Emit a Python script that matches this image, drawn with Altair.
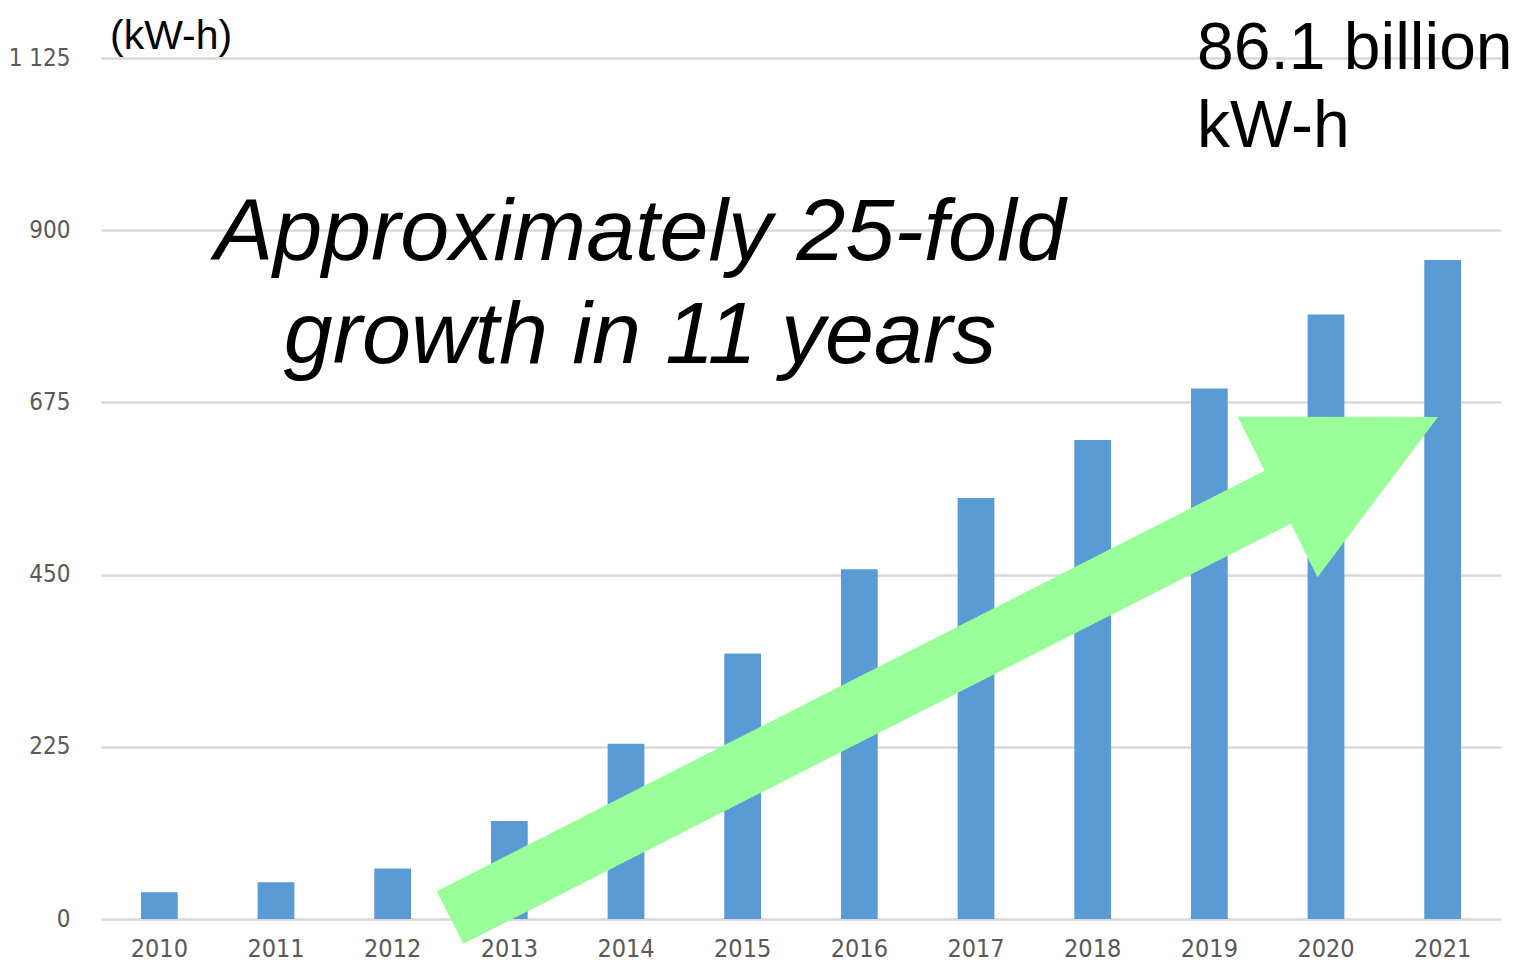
import altair as alt
import pandas as pd

# ---- data ----
years = ["2010", "2011", "2012", "2013", "2014", "2015",
         "2016", "2017", "2018", "2019", "2020", "2021"]
generation = [35, 48, 66, 128, 229, 347, 457, 550, 626, 693, 790, 861]
y_ticks = [0, 225, 450, 675, 900, 1125]

unit_label = "(kW-h)"
headline_lines = ["Approximately 25-fold", "growth in 11 years"]
callout_lines = ["86.1 billion", "kW-h"]

BAR_COLOR = "#5B9BD5"
ARROW_COLOR = "#99FF99"
GRID_COLOR = "#D9D9D9"
LABEL_COLOR = "#595959"
NARROW = "'Liberation Sans Narrow', 'DejaVu Sans Condensed', 'Roboto', sans-serif"
SANS = "'Liberation Sans', Arial, sans-serif"

W, H = 1400, 861

df = pd.DataFrame({"year": years, "value": generation})
one = pd.DataFrame({"k": [0]})

bars = alt.Chart(df).mark_bar(color=BAR_COLOR).encode(
    x=alt.X("year:N", sort=years,
            scale=alt.Scale(paddingInner=0.685, paddingOuter=0.3425),
            axis=alt.Axis(title=None, labelAngle=0, domain=False, ticks=False,
                          labelFont=NARROW, labelFontSize=25,
                          labelColor=LABEL_COLOR, labelPadding=17)),
    y=alt.Y("value:Q",
            scale=alt.Scale(domain=[0, 1125], nice=False, zero=True),
            axis=alt.Axis(title=None, values=y_ticks, domain=False, ticks=False,
                          grid=True, gridColor=GRID_COLOR, gridWidth=2.5,
                          labelFont=NARROW, labelFontSize=24,
                          labelColor=LABEL_COLOR, labelPadding=31,
                          labelExpr="replace(format(datum.value, ','), ',', ' ')")),
)

# arrow annotation (pixel positions inside the plot area)
shaft = alt.Chart(one).mark_rule(color=ARROW_COLOR, strokeWidth=59,
                                 strokeCap="butt").encode(
    x=alt.value(349), y=alt.value(859.5),
    x2=alt.value(1178), y2=alt.value(438.5),
)
head = alt.Chart(one).mark_point(
    shape="M -1 -1 L 1 0 L -1 1 Z", filled=True, size=32100,
    angle=333.5, color=ARROW_COLOR, opacity=1, strokeWidth=0,
).encode(x=alt.value(1256.75), y=alt.value(399))

unit_text = alt.Chart(one).mark_text(
    text=unit_label, font=SANS, fontSize=41, color="black",
    align="left", baseline="alphabetic",
).encode(x=alt.value(9), y=alt.value(-9))

callout = alt.Chart(one).mark_text(
    text=callout_lines, font=SANS, fontSize=66, lineHeight=78,
    color="black", align="left", baseline="alphabetic",
).encode(x=alt.value(1096), y=alt.value(11))

headline = alt.Chart(one).mark_text(
    text=headline_lines, font=SANS, fontSize=88, lineHeight=103,
    fontStyle="italic", color="black", align="center", baseline="alphabetic",
).encode(x=alt.value(539), y=alt.value(202))

chart = alt.layer(bars, shaft, head, unit_text, callout, headline).properties(
    width=W, height=H,
    autosize=alt.AutoSizeParams(type="none"),
    padding={"left": 93, "top": 50, "right": 12, "bottom": 50},
    background="white",
).configure_view(stroke=None)

chart.save("out.html", embed_options={"renderer": "svg", "actions": False})
